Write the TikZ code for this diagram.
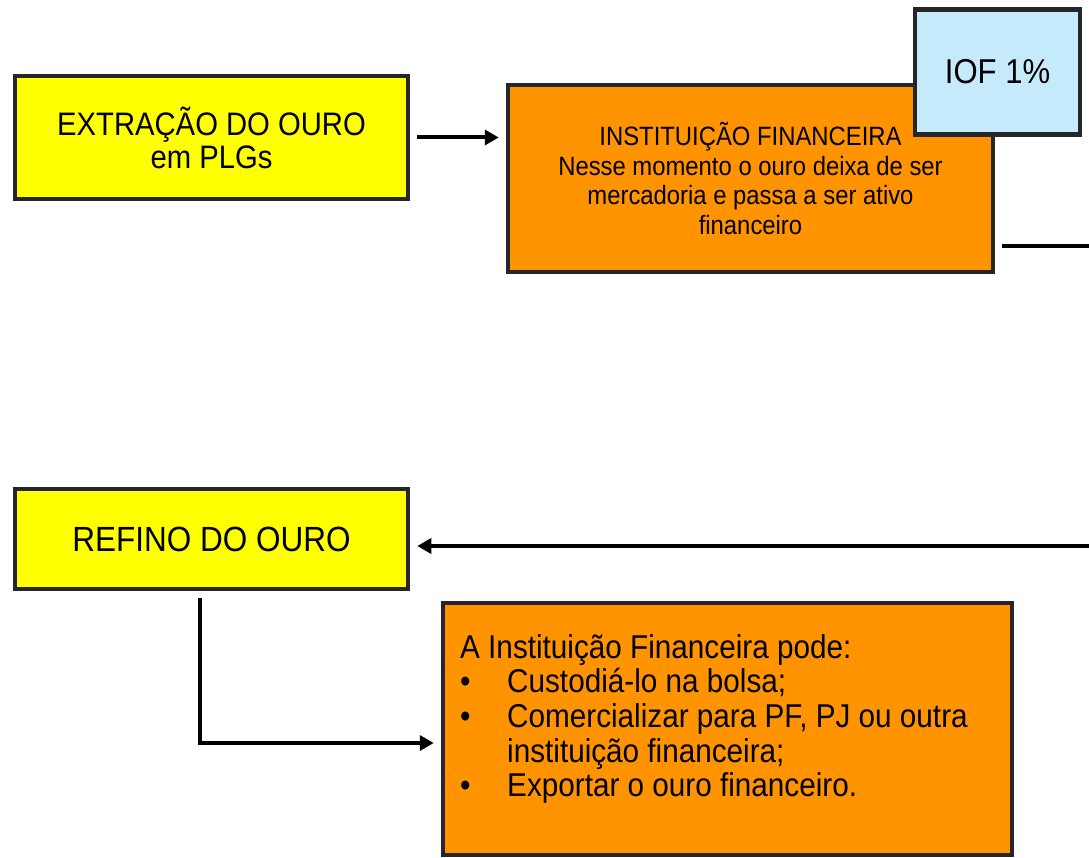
\documentclass[tikz,border=0pt]{standalone}
\usepackage{fontspec}
\setmainfont[FakeStretch=0.9]{Liberation Sans}
\usetikzlibrary{arrows.meta,calc}
\definecolor{goldyellow}{HTML}{FFFF00}
\definecolor{orangefill}{HTML}{FF9400}
\definecolor{iofblue}{HTML}{C4EAFB}
\definecolor{rough}{HTML}{262626}
\begin{document}
\begin{tikzpicture}[x=1pt,y=-1pt,
  box/.style={draw=rough, line width=4.5pt, inner sep=0pt, align=center},
  arr/.style={line width=4pt, -{Triangle[length=14pt,width=15pt]}},
  link/.style={line width=4pt}]
\useasboundingbox (0,0) rectangle (1089,858);
\node[box, fill=goldyellow, minimum width=393pt, minimum height=123pt,
      font=\fontsize{32.5}{33}\selectfont] (extr) at (211.5,137.5)
      {EXTRAÇÃO DO OURO\\em PLGs};
\node[box, fill=orangefill, minimum width=485pt, minimum height=187pt,
      font=\fontsize{26.5}{29.5}\selectfont] (inst) at (750.5,178.5)
      {INSTITUIÇÃO FINANCEIRA\\Nesse momento o ouro deixa de ser\\mercadoria e passa a ser ativo\\financeiro};
\node[box, fill=iofblue, minimum width=165pt, minimum height=125pt,
      font=\fontsize{34.5}{36}\selectfont] (iof) at (997.5,72) {IOF 1\%};
\node[box, fill=goldyellow, minimum width=393pt, minimum height=100pt,
      font=\fontsize{35}{36}\selectfont] (refino) at (211.5,539) {REFINO DO OURO};
\node[box, fill=orangefill, minimum width=569pt, minimum height=252pt] (opts) at (727.5,729) {};
\node[anchor=north west, inner sep=0pt, align=left,
      font=\fontsize{33}{34.7}\selectfont] (optstxt) at (460,634)
      {A Instituição Financeira pode:\\
       \makebox[47pt][l]{•}Custodiá-lo na bolsa;\\
       \makebox[47pt][l]{•}Comercializar para PF, PJ ou outra\\
       \hspace*{47pt}instituição financeira;\\
       \makebox[47pt][l]{•}Exportar o ouro financeiro.};
\coordinate (exitA) at (1089,246);
\coordinate (exitB) at (1089,546);
\coordinate (elb) at (200,743);
\draw[arr, shorten <=7pt, shorten >=7pt] (extr.east) -- (extr.east -| inst.west);
\draw[link, shorten <=7pt] (inst.east |- exitA) -- (exitA);
\draw[arr, shorten >=7pt] (exitB) -- (exitB -| refino.east);
\draw[arr, shorten <=7pt, shorten >=7pt] (elb |- refino.south) -- (elb) -- (elb -| opts.west);
\end{tikzpicture}
\end{document}
